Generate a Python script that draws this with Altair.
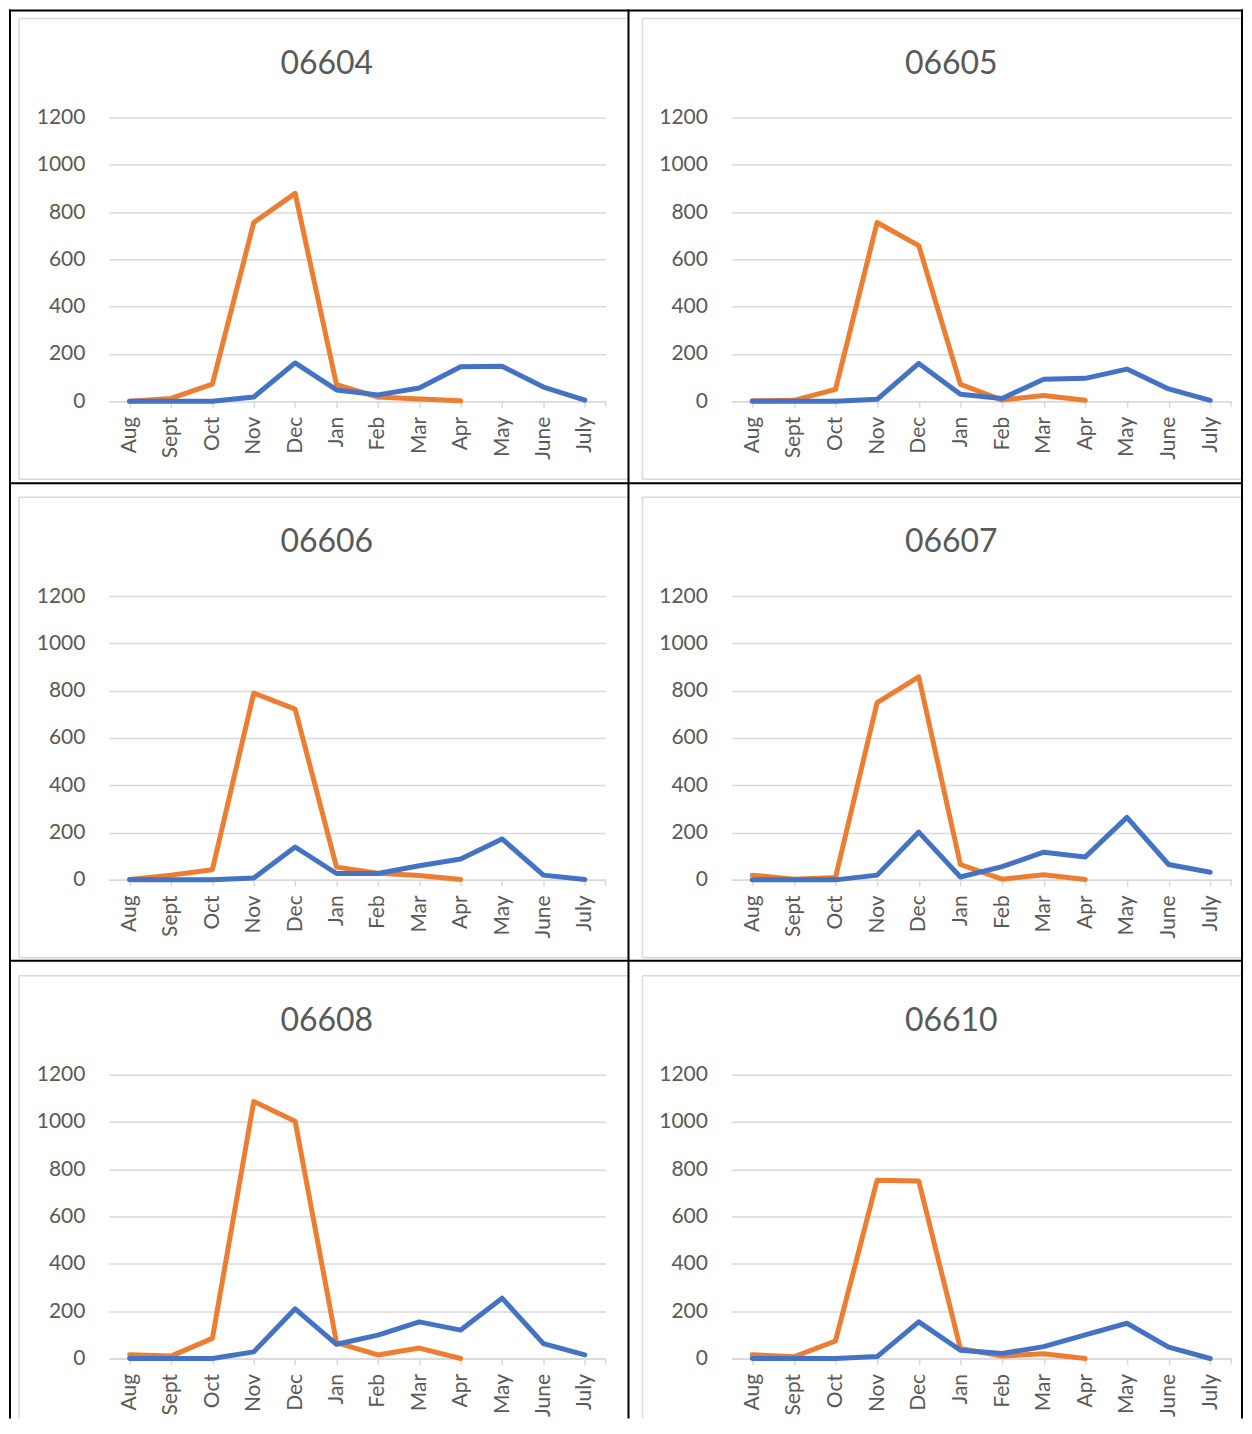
import altair as alt
import pandas as pd

months = ["Aug", "Sept", "Oct", "Nov", "Dec", "Jan", "Feb", "Mar", "Apr", "May", "June", "July"]
codes = ["06604", "06605", "06606", "06607", "06608", "06610"]

orange_06604 = [0, 12, 72, 756, 879, 70, 18, 10, 2]
blue_06604 = [0, 0, 0, 18, 162, 48, 27, 56, 146, 148, 60, 5]
orange_06605 = [2, 4, 50, 756, 658, 72, 5, 24, 4]
blue_06605 = [0, 0, 0, 8, 160, 30, 12, 93, 97, 136, 52, 4]
orange_06606 = [2, 20, 43, 790, 722, 54, 28, 18, 2]
blue_06606 = [0, 0, 0, 8, 139, 27, 27, 60, 88, 173, 20, 2]
orange_06607 = [20, 3, 10, 750, 858, 65, 3, 22, 2]
blue_06607 = [0, 0, 0, 20, 202, 12, 56, 117, 97, 264, 65, 32]
orange_06608 = [16, 10, 85, 1087, 1003, 67, 15, 44, 0]
blue_06608 = [0, 0, 0, 28, 210, 60, 99, 155, 120, 255, 63, 15]
orange_06610 = [16, 7, 74, 754, 750, 42, 10, 20, 0]
blue_06610 = [0, 0, 0, 8, 155, 35, 21, 50, 100, 149, 48, 0]

orange_series = [orange_06604, orange_06605, orange_06606, orange_06607, orange_06608, orange_06610]
blue_series = [blue_06604, blue_06605, blue_06606, blue_06607, blue_06608, blue_06610]
y_ticks = [0, 200, 400, 600, 800, 1000, 1200]

ORANGE = "#ED7D31"
BLUE = "#4472C4"
GRID = "#D9D9D9"
TXT = "#595959"
FONT = "Lato"

COL_W = [497, 500]
H = 284
HSP = 126
VSP = 195
BOTTOM = 344  # lowest drawn pixel, relative to the bottom row's plot top

one = pd.DataFrame({"k": [0]})


def hrule(x1, x2, y, color, w):
    return alt.Chart(one).mark_rule(color=color, strokeWidth=w).encode(
        x=alt.value(x1), x2=alt.value(x2), y=alt.value(y))


def vrule(x, y1, y2, color, w):
    return alt.Chart(one).mark_rule(color=color, strokeWidth=w).encode(
        x=alt.value(x), y=alt.value(y1), y2=alt.value(y2))


def panel(i):
    col = i % 2
    row = i // 2
    W = COL_W[col]
    code = codes[i]
    d_or = pd.DataFrame({"month": months[:len(orange_series[i])], "value": orange_series[i]})
    d_bl = pd.DataFrame({"month": months, "value": blue_series[i]})

    xenc = alt.X(
        "month:N",
        sort=months,
        scale=alt.Scale(type="point", domain=months, padding=0.5),
        axis=alt.Axis(
            title=None, labelAngle=270, labelFont=FONT, labelFontSize=21, labelColor=TXT,
            domainColor=GRID, domainWidth=1.5, tickColor=GRID, tickWidth=1.5, tickSize=6,
            labelPadding=9, grid=False,
        ),
    )
    yenc = alt.Y(
        "value:Q",
        scale=alt.Scale(domain=[0, 1200], nice=False),
        axis=alt.Axis(
            title=None, values=y_ticks, format="d", labelFont=FONT, labelFontSize=21, labelColor=TXT,
            domain=False, ticks=False, labelPadding=24, grid=True, gridColor=GRID, gridWidth=1.5,
        ),
    )

    box_left = -90 if col == 0 else -89
    box_right = 521 if col == 0 else 512
    box_bottom = BOTTOM if row == 2 else 362
    layers = [
        hrule(box_left, box_right, -99, GRID, 1.5),
        vrule(box_left, -99, box_bottom, GRID, 1.5),
    ]
    if row < 2:
        layers.append(hrule(box_left, box_right, box_bottom, GRID, 1.5))

    line_or = alt.Chart(d_or).mark_line(color=ORANGE, strokeWidth=5, strokeCap="round", strokeJoin="round").encode(x=xenc, y=yenc)
    line_bl = alt.Chart(d_bl).mark_line(color=BLUE, strokeWidth=5, strokeCap="round", strokeJoin="round").encode(x=xenc, y=yenc)
    end_tick = vrule(W, H, H + 6, GRID, 1.5)
    title = alt.Chart(one).mark_text(font=FONT, fontSize=32, color=TXT, align="center", baseline="alphabetic").encode(
        x=alt.value(218 if col == 0 else 220), y=alt.value(-44), text=alt.value(code)
    )
    layers += [line_or, line_bl, end_tick, title]

    if i == 5:
        # table border lines (relative to this panel's plot origin)
        for yy in [-1065, -592, -114]:
            layers.append(hrule(-723, 512, yy, "black", 2))
        for xx in [-722, -103, 511]:
            layers.append(vrule(xx, -1066, BOTTOM, "black", 2))

    return alt.layer(*layers).properties(width=W, height=H)


chart = alt.concat(
    *[panel(i) for i in range(6)],
    columns=2,
    spacing=alt.RowColnumber(row=VSP, column=HSP),
    bounds="flush",
).properties(padding=0).configure_view(strokeWidth=0)

chart.save("out.html", embed_options={"renderer": "svg", "actions": False})
